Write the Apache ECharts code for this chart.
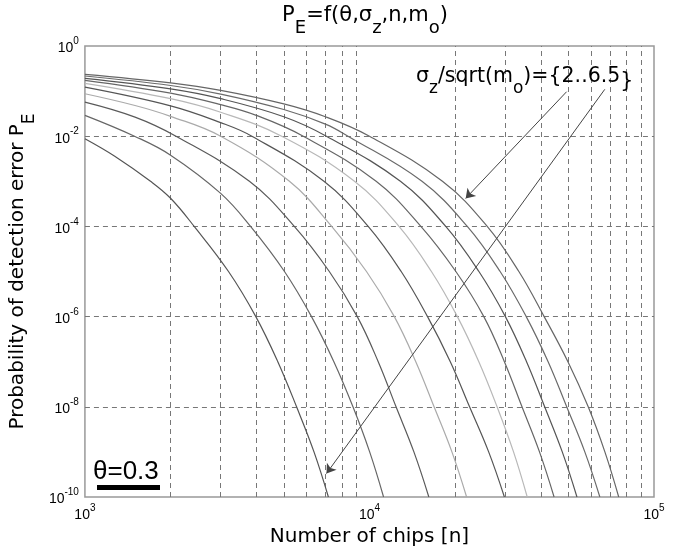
<!DOCTYPE html>
<html>
<head>
<meta charset="utf-8">
<title>PE = f(theta, sigma_z, n, m_o)</title>
<script src="https://cdn.jsdelivr.net/npm/echarts@6/dist/echarts.min.js"></script>
<style>
  html, body { margin: 0; background: #fff; }
  #chart { width: 678px; height: 553px; }
</style>
</head>
<body>
<div id="chart"></div>
<script>
// one curve per sigma_z/sqrt(m_o) value, points as [n, PE]
const sigmas = ['2', '2.5', '3', '3.5', '4', '4.5', '5', '5.5', '6', '6.5'];
const pe_20 = [[1000, 0.0088], [1273, 3.6e-3], [1700, 1e-3], [2000, 4.2e-4], [2421, 1e-4], [3196, 1e-5], [3987, 1e-6], [4763, 1e-7], [5544, 1e-8], [6383, 1e-9], [7173, 1e-10]];
const pe_25 = [[1000, 0.029], [1494, 1e-2], [2000, 3.8e-3], [3000, 5.4e-4], [3820, 1e-4], [5027, 1e-5], [6256, 1e-6], [7497, 1e-7], [8750, 1e-8], [10016, 1e-9], [11210, 1e-10]];
const pe_30 = [[1000, 0.057], [1500, 0.0265], [2090, 1e-2], [3785, 1e-3], [5443, 1e-4], [7225, 1e-5], [9060, 1e-6], [10734, 1e-7], [12400, 1e-8], [14327, 1e-9], [16170, 1e-10]];
const pe_35 = [[1000, 0.0875], [1500, 0.048], [2000, 0.0276], [3000, 1e-2], [5233, 1e-3], [7366, 1e-4], [9762, 1e-5], [12230, 1e-6], [14548, 1e-7], [16870, 1e-8], [19487, 1e-9], [21950, 1e-10]];
const pe_40 = [[1000, 0.122], [2000, 0.047], [3000, 0.020], [3861, 1e-2], [6918, 1e-3], [9897, 1e-4], [12928, 1e-5], [16000, 1e-6], [19236, 1e-7], [22480, 1e-8], [26238, 1e-9], [29800, 1e-10]];
const pe_45 = [[1000, 0.149], [2000, 0.068], [3000, 0.034], [4915, 1e-2], [8856, 1e-3], [12700, 1e-4], [16510, 1e-5], [20370, 1e-6], [24230, 1e-7], [28090, 1e-8], [32090, 1e-9], [35850, 1e-10]];
const pe_50 = [[1000, 0.173], [2000, 0.090], [3000, 0.050], [4000, 0.029], [5852, 1e-2], [10554, 1e-3], [15160, 1e-4], [20120, 1e-5], [25230, 1e-6], [29800, 1e-7], [34360, 1e-8], [39590, 1e-9], [44550, 1e-10]];
const pe_55 = [[1000, 0.192], [2000, 0.112], [3000, 0.068], [5000, 0.027], [7058, 1e-2], [12845, 1e-3], [18540, 1e-4], [24250, 1e-5], [30040, 1e-6], [35650, 1e-7], [41280, 1e-8], [47600, 1e-9], [53610, 1e-10]];
const pe_60 = [[1000, 0.216], [2000, 0.133], [3000, 0.086], [5000, 0.039], [7000, 0.0185], [8405, 1e-2], [15295, 1e-3], [22070, 1e-4], [28790, 1e-5], [35560, 1e-6], [42450, 1e-7], [49340, 1e-8], [57130, 1e-9], [64520, 1e-10]];
const pe_65 = [[1000, 0.235], [2000, 0.152], [3000, 0.104], [5000, 0.052], [7000, 0.027], [10000, 1e-2], [18050, 1e-3], [25930, 1e-4], [33500, 1e-5], [41110, 1e-6], [49830, 1e-7], [58720, 1e-8], [67200, 1e-9], [75160, 1e-10]];
const curves = [pe_20, pe_25, pe_30, pe_35, pe_40, pe_45, pe_50, pe_55, pe_60, pe_65];

// dashed vertical grid lines between the decades
const xGrid = [2000, 3000, 4000, 5000, 6000, 7000, 8000, 9000,
               20000, 30000, 40000, 50000, 60000, 70000, 80000, 90000];

// the two annotation arrows, [from, to] in data coordinates
const arrowFrom = [[49300, 0.0969], [67140, 0.1094]];
const arrowTo = [[21780, 4.18e-4], [7063, 3.32e-10]];

const lineColors = ['#555', '#666', '#5a5a5a', '#aaa', '#555', '#b8b8b8', '#666', '#555', '#6a6a6a', '#666'];
const FONT = 'DejaVu Sans, Verdana, sans-serif';
const TICKFONT = 'Liberation Sans, Arial, Helvetica, sans-serif';

const chart = echarts.init(document.getElementById('chart'), null, { renderer: 'canvas' });

function powLabel(v) {
  return '{b|10}{s|' + Math.round(Math.log10(v)) + '}';
}
const powRich = {
  b: { fontSize: 14, fontFamily: TICKFONT, color: '#000', lineHeight: 19, verticalAlign: 'bottom' },
  s: { fontSize: 10, fontFamily: TICKFONT, color: '#000', lineHeight: 19, verticalAlign: 'top' }
};
function subRich(big, small, lh) {
  return {
    a: { fontSize: big, fontFamily: FONT, fontWeight: 'normal', color: '#000', lineHeight: lh, verticalAlign: 'top' },
    s: { fontSize: small, fontFamily: FONT, fontWeight: 'normal', color: '#000', lineHeight: lh, verticalAlign: 'bottom' }
  };
}

const series = curves.map(function (pts, i) {
  return {
    name: sigmas[i],
    type: 'line',
    data: pts,
    smooth: 0.4,
    showSymbol: false,
    silent: true,
    lineStyle: { color: lineColors[i], width: 1.2 },
    z: 3
  };
});

series[0].markLine = {
  silent: true,
  symbol: 'none',
  label: { show: false },
  lineStyle: { color: '#777', type: [5, 4], width: 1 },
  data: xGrid.map(function (v) { return { xAxis: v }; }),
  z: 1
};
series[9].markLine = {
  silent: true,
  symbol: ['none', 'arrow'],
  symbolSize: 9,
  label: { show: false },
  lineStyle: { color: '#444', type: 'solid', width: 1 },
  data: arrowFrom.map(function (a, i) {
    return [{ coord: a }, { coord: arrowTo[i] }];
  })
};

chart.setOption({
  animation: false,
  backgroundColor: '#fff',
  title: [{
    text: '{a|P}{s|E}{a|=f(θ,σ}{s|z}{a|,n,m}{s|o}{a|)}',
    left: 360,
    top: 0,
    textAlign: 'center',
    textStyle: { fontWeight: 'normal', rich: subRich(21, 18, 32) }
  }, {
    // the closing brace sits outside the rich tokens, so it takes the plain textStyle
    text: '{a|σ}{s|z}{a|/sqrt(m}{s|o}{a|)={2..6.5}}',
    left: 411,
    top: 61,
    textStyle: {
      fontSize: 20.5,
      fontFamily: FONT,
      fontWeight: 'normal',
      color: '#000',
      lineHeight: 31,
      rich: subRich(20.5, 17, 31)
    }
  }, {
    text: 'θ=0.3',
    left: 88,
    top: 454,
    textStyle: { fontSize: 26, fontFamily: TICKFONT, color: '#000', fontWeight: 'normal' }
  }],
  graphic: [{
    type: 'rect',
    shape: { x: 97, y: 485, width: 63, height: 5 },
    style: { fill: '#000' }
  }],
  grid: {
    left: 82,
    right: 24,
    top: 46,
    bottom: 56,
    show: true,
    borderColor: '#999',
    borderWidth: 1.5,
    backgroundColor: '#fff'
  },
  xAxis: {
    type: 'log',
    logBase: 10,
    min: 1000,
    max: 100000,
    name: 'Number of chips [n]',
    nameLocation: 'middle',
    nameGap: 29,
    nameTextStyle: { fontSize: 20, fontFamily: FONT, color: '#000' },
    axisLine: { show: false },
    axisTick: { show: false },
    splitLine: { show: false },
    axisLabel: { margin: 6, formatter: powLabel, rich: powRich }
  },
  yAxis: {
    type: 'log',
    logBase: 100,
    min: 1e-10,
    max: 1,
    name: '{a|Probability of detection error P}{s|E}',
    nameLocation: 'middle',
    nameRotate: 90,
    nameGap: 40,
    nameTextStyle: { rich: subRich(20, 17, 30) },
    axisLine: { show: false },
    axisTick: { show: false },
    splitLine: {
      show: true,
      showMinLine: false,
      showMaxLine: false,
      lineStyle: { color: '#777', type: [5, 4], width: 1 }
    },
    axisLabel: { margin: 6, formatter: powLabel, rich: powRich }
  },
  series: series
});
</script>
</body>
</html>
